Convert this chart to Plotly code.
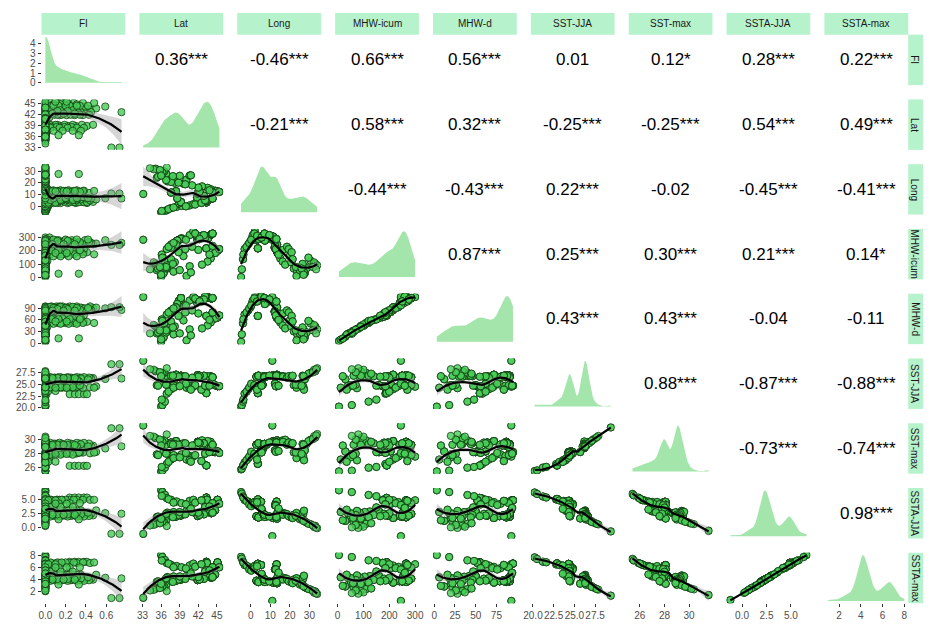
import numpy as np
import plotly.graph_objects as go

W, H = 928, 626

var_names = ["FI", "Lat", "Long", "MHW-icum", "MHW-d",
             "SST-JJA", "SST-max", "SSTA-JJA", "SSTA-max"]

# ---- site level variables (one entry per site) ----
site_lat = [36.0, 36.2, 36.6, 36.9, 37.6, 38.5, 39.3, 40.6, 41.2, 38.9,
            39.2, 43.3, 43.4, 43.6, 44.1, 42.6, 41.8, 38.6, 41.9, 38.4,
            37.6, 33.1, 45.1, 44.7, 44.0, 43.5, 42.6, 44.3, 39.6, 38.2,
            37.0, 38.0, 40.1, 40.6, 35.3, 36.4, 36.8, 36.5, 35.1, 34.8,
            36.9, 36.1, 37.2, 38.0, 40.0, 41.5, 42.5, 43.1, 44.3, 42.9,
            42.2, 45.4, 43.8, 42.0, 41.0, 39.9, 38.8, 37.6, 36.8, 39.0,
            40.8, 37.9, 35.5, 36.2, 35.8, 34.2, 36.0]
site_long = [-5.0, -4.6, -4.0, -3.2, -1.3, -0.2, 0.6, 1.0, 2.1, 2.9,
             3.9, 3.6, 5.2, 6.0, 7.0, 6.8, 8.0, 7.2, 11.5, 13.4,
             12.2, 11.0, 13.2, 13.7, 15.1, 16.3, 17.6, 12.4, 19.9, 20.7,
             22.0, 23.8, 23.4, 27.0, 25.1, 27.6, 28.6, 30.6, 33.0, 32.4,
             34.0, -3.8, -2.2, -0.8, 0.2, 1.8, 3.2, 5.5, 7.0, 9.5,
             13.1, 12.8, 14.2, 16.5, 18.5, 19.4, 20.9, 21.4, 23.0, 26.8,
             27.2, 26.5, 26.0, 29.5, 31.8, 33.4, 27.0]
site_icum = [5, 55, 120, 185, 215, 235, 255, 275, 300, 245,
             250, 190, 265, 255, 280, 260, 250, 240, 265, 215,
             195, 245, 175, 160, 125, 105, 85, 205, 140, 100,
             60, 40, 12, 75, 50, 30, 62, 110, 90, 100,
             80, 150, 200, 225, 245, 285, 270, 260, 285, 275,
             250, 185, 150, 180, 200, 185, 165, 120, 70, 50,
             35, 90, 60, 130, 70, 55, 20]
site_d = [3, 18, 40, 58, 66, 72, 80, 86, 93, 86,
          91, 55, 95, 92, 90, 86, 82, 79, 87, 72,
          64, 93, 52, 50, 42, 36, 30, 62, 46, 34,
          24, 18, 6, 28, 20, 12, 22, 40, 34, 37,
          28, 48, 62, 70, 76, 90, 84, 94, 91, 88,
          84, 56, 47, 60, 66, 62, 55, 44, 26, 20,
          16, 32, 22, 45, 26, 20, 8]
site_sst_jja = [20.2, 20.5, 21.2, 22.8, 23.7, 24.3, 24.6, 24.4, 24.2, 26.2,
                26.4, 22.9, 24.4, 24.6, 26.2, 26.3, 26.3, 26.1, 26.5, 26.6,
                26.3, 29.4, 24.3, 24.5, 26.3, 26.3, 26.2, 24.8, 26.3, 26.2,
                24.5, 24.4, 24.0, 23.9, 24.5, 25.7, 26.4, 27.0, 27.3, 27.6,
                27.9, 21.6, 23.2, 24.0, 24.8, 24.5, 23.6, 24.4, 26.1, 26.4,
                26.4, 24.3, 24.4, 26.2, 26.0, 26.3, 26.2, 26.4, 24.6, 24.3,
                23.6, 26.4, 24.4, 26.8, 27.1, 27.7, 26.3]
site_sst_max = [25.4, 25.5, 25.9, 26.4, 27.0, 27.4, 27.7, 27.5, 27.4, 28.9,
                29.1, 26.2, 28.0, 28.2, 28.7, 29.0, 28.9, 29.0, 29.4, 29.5,
                29.3, 31.6, 28.1, 28.0, 29.4, 29.5, 29.6, 28.1, 29.2, 29.1,
                27.8, 27.6, 27.0, 26.9, 27.7, 28.1, 29.0, 29.6, 29.9, 30.1,
                30.4, 26.0, 26.7, 27.2, 27.9, 27.6, 26.8, 27.8, 29.0, 29.2,
                29.2, 27.9, 28.0, 29.3, 28.9, 29.2, 29.0, 29.1, 27.8, 27.3,
                26.7, 29.0, 27.6, 29.4, 29.7, 30.2, 28.9]
site_ssta_jja = [6.6, 6.3, 5.8, 5.2, 4.9, 4.6, 4.3, 4.7, 4.9, 2.3,
                 2.1, 5.3, 4.9, 3.0, 2.5, 2.4, 2.3, 2.2, 2.0, 1.9,
                 2.3, -1.2, 4.9, 3.0, 3.0, 2.9, 2.8, 4.3, 2.4, 2.1,
                 2.6, 2.7, 2.9, 3.1, 1.8, 1.4, 1.2, 0.9, 0.6, 0.4,
                 0.2, 5.6, 5.0, 4.4, 4.1, 4.4, 4.8, 3.6, 2.6, 2.3,
                 2.2, 4.2, 3.7, 2.6, 2.7, 2.3, 2.2, 2.0, 2.4, 2.7,
                 3.3, 1.8, 1.9, 1.0, 0.7, 0.3, 1.5]
site_ssta_max = [8.0, 7.7, 7.2, 6.7, 6.4, 6.2, 6.0, 6.3, 6.6, 4.2,
                 4.0, 6.9, 6.7, 4.8, 4.3, 4.2, 4.1, 4.0, 3.9, 3.8,
                 4.2, 1.0, 6.8, 4.8, 4.8, 4.7, 4.6, 6.0, 4.2, 4.0,
                 4.4, 4.5, 4.6, 4.9, 3.6, 3.2, 3.0, 2.8, 2.5, 2.3,
                 2.1, 7.1, 6.6, 6.0, 5.8, 6.1, 6.5, 5.3, 4.4, 4.1,
                 4.0, 6.0, 5.5, 4.4, 4.5, 4.1, 4.0, 3.8, 4.2, 4.5,
                 5.0, 3.6, 3.7, 2.9, 2.6, 2.2, 3.3]
# FI observations recorded at each site
site_fi = [
    [0, 0], [0, 0], [0, 0], [0, 0.01], [0, 0.02], [0, 0.02],
    [0, 0.03], [0, 0.01], [0, 0.04],
    [0, 0.08, 0.15, 0.22, 0.30, 0.41, 0.12],
    [0, 0.05, 0.12, 0.19, 0.27, 0.36, 0.47, 0.10],
    [0, 0.24, 0.29, 0.33, 0.38, 0.41],
    [0, 0.06, 0.11, 0.17, 0.24, 0.31, 0.44, 0.14],
    [0, 0.04, 0.09, 0.16, 0.21, 0.28, 0.35, 0.50, 0.13],
    [0, 0.07, 0.13, 0.20, 0.26, 0.39, 0.59, 0.10],
    [0, 0.10, 0.18, 0.23, 0.32, 0.45, 0.75, 0.15],
    [0, 0.03, 0.14, 0.21, 0.29, 0.37],
    [0, 0.06, 0.11, 0.19, 0.26],
    [0, 0.09, 0.16, 0.25, 0.34, 0.43, 0.12],
    [0, 0.05, 0.14, 0.22, 0.31, 0.38],
    [0, 0.08, 0.17, 0.27, 0.35],
    [0.65, 0.73],
    [0, 0.05, 0.12, 0.20, 0.28, 0.37, 0.48, 0.16],
    [0, 0.08, 0.15, 0.23, 0.31],
    [0, 0.02], [0, 0], [0, 0],
    [0, 0.06, 0.13, 0.24, 0.34],
    [0, 0], [0, 0], [0, 0], [0, 0], [0, 0], [0, 0], [0, 0],
    [0, 0.13, 0.33],
    [0, 0], [0, 0], [0, 0], [0], [0],
    [0, 0], [0, 0], [0, 0.01], [0, 0], [0, 0.02], [0, 0.03, 0.10],
    [0, 0.05, 0.15, 0.27], [0, 0.08, 0.20, 0.31, 0.42],
    [0, 0.12, 0.22], [0, 0.07, 0.18, 0.29], [0, 0.10, 0.21],
    [0, 0], [0, 0], [0, 0], [0, 0], [0, 0], [0, 0], [0, 0], [0, 0],
    [0, 0], [0, 0], [0, 0], [0, 0], [0, 0], [0], [0, 0],
]

# ---- correlation labels for the upper triangle (row-major) ----
corr_values = [0.36, -0.46, 0.66, 0.56, 0.01, 0.12, 0.28, 0.22,
               -0.21, 0.58, 0.32, -0.25, -0.25, 0.54, 0.49,
               -0.44, -0.43, 0.22, -0.02, -0.45, -0.41,
               0.87, 0.25, 0.30, 0.21, 0.14,
               0.43, 0.43, -0.04, -0.11,
               0.88, -0.87, -0.88,
               -0.73, -0.74,
               0.98]
corr_signif = ["***", "***", "***", "***", "", "*", "***", "***",
               "***", "***", "***", "***", "***", "***", "***",
               "***", "***", "***", "", "***", "***",
               "***", "***", "***", "***", "*",
               "***", "***", "", "",
               "***", "***", "***",
               "***", "***",
               "***"]

# ---- axis breaks ----
density_ticks = [0, 1, 2, 3, 4]
y_breaks = {
    1: [33, 36, 39, 42, 45], 2: [0, 10, 20, 30], 3: [0, 100, 200, 300],
    4: [0, 30, 60, 90], 5: [20.0, 22.5, 25.0, 27.5], 6: [26, 28, 30],
    7: [0.0, 2.5, 5.0], 8: [2, 4, 6, 8],
}
x_breaks = {
    0: [0.0, 0.2, 0.4, 0.6], 1: [33, 36, 39, 42, 45], 2: [0, 10, 20, 30],
    3: [0, 100, 200, 300], 4: [0, 25, 50, 75], 5: [20.0, 22.5, 25.0, 27.5],
    6: [26, 28, 30], 7: [0.0, 2.5, 5.0], 8: [2, 4, 6, 8],
}
break_fmt = {0: "{:.1f}", 5: "{:.1f}", 7: "{:.1f}"}

# ---- expand site table into observations ----
site_cols = [site_lat, site_long, site_icum, site_d, site_sst_jja,
             site_sst_max, site_ssta_jja, site_ssta_max]
cols = [[] for _ in range(9)]
for s, fis in enumerate(site_fi):
    for f in fis:
        cols[0].append(f)
        for k in range(8):
            cols[k + 1].append(site_cols[k][s])
data = [np.asarray(c, dtype=float) for c in cols]
NV = len(var_names)


def loess_smooth(x, y, span=0.75, n_out=80):
    n = len(x)
    q = int(np.floor(n * span))

    def lrow(x0):
        d = np.abs(x - x0)
        h = max(np.sort(d)[q - 1], 1e-12)
        u = np.clip(d / h, 0, 1)
        w = (1 - u ** 3) ** 3
        X = np.column_stack([np.ones(n), x - x0, (x - x0) ** 2])
        XtW = X.T * w
        return (np.linalg.pinv(XtW @ X) @ XtW)[0]

    L = np.array([lrow(v) for v in x])
    res = y - L @ y
    IL = np.eye(n) - L
    delta1 = np.trace(IL.T @ IL)
    sigma = np.sqrt(np.sum(res ** 2) / delta1)
    xs = np.linspace(x.min(), x.max(), n_out)
    Ls = np.array([lrow(v) for v in xs])
    fit = Ls @ y
    se = sigma * np.sqrt(np.sum(Ls ** 2, axis=1))
    return xs, fit, fit - 1.97 * se, fit + 1.97 * se


def density(v, n_out=512):
    n = len(v)
    sd = np.std(v, ddof=1)
    iqr = np.subtract(*np.percentile(v, [75, 25]))
    lo = min(sd, iqr / 1.34) if iqr > 0 else sd
    bw = 0.9 * lo * n ** -0.2
    g = np.linspace(v.min(), v.max(), n_out)
    k = np.exp(-0.5 * ((g[:, None] - v[None, :]) / bw) ** 2)
    return g, k.sum(axis=1) / (n * bw * np.sqrt(2 * np.pi))


def expand(lo, hi, m=0.05):
    p = (hi - lo) * m
    return [lo - p, hi + p]


def col_left(j):
    return 34 + 99.25 * j


def row_top(i):
    return 32 + 65.5 * i


PW, PH = 85, 51
STRIP = "#b6f2cb"
DENS = "#a3e5ab"
FONT = "Liberation Sans, Arial, sans-serif"
TICKFONT = dict(family=FONT, size=10, color="#4d4d4d")

fig = go.Figure()
layout = dict(width=W, height=H, margin=dict(l=0, r=0, t=0, b=0),
              paper_bgcolor="white", plot_bgcolor="white",
              showlegend=False)
shapes, annotations = [], []
ax = 0
pairs = [(a, b) for a in range(NV) for b in range(a + 1, NV)]

for i in range(NV):
    for j in range(NV):
        x0p, y0p = col_left(j), row_top(i)
        xdom = [x0p / W, (x0p + PW) / W]
        ydom = [1 - (y0p + PH) / H, 1 - y0p / H]
        if j > i:
            k = pairs.index((i, j))
            annotations.append(dict(
                x=(x0p + PW / 2) / W, y=1 - (y0p + PH / 2) / H,
                xref="paper", yref="paper", showarrow=False,
                xanchor="center", yanchor="middle",
                text=f"{corr_values[k]:.2f}{corr_signif[k]}",
                font=dict(family=FONT, size=17, color="black")))
            continue
        ax += 1
        xa, ya = f"x{ax}", f"y{ax}"
        xr = expand(data[j].min(), data[j].max())
        if i == j:
            g, dv = density(data[i])
            fig.add_trace(go.Scatter(x=g, y=dv, mode="lines", fill="tozeroy",
                                     fillcolor=DENS, line=dict(width=0),
                                     xaxis=xa, yaxis=ya, hoverinfo="skip"))
            yr = expand(0, dv.max())
        else:
            xs, fit, lo, hi = loess_smooth(data[j], data[i])
            fig.add_trace(go.Scatter(
                x=data[j], y=data[i], mode="markers", xaxis=xa, yaxis=ya,
                marker=dict(size=7.3, color="rgba(72,204,88,0.8)",
                            line=dict(color="rgba(15,55,15,0.85)", width=0.9))))
            fig.add_trace(go.Scatter(
                x=np.concatenate([xs, xs[::-1]]),
                y=np.concatenate([hi, lo[::-1]]),
                mode="lines", fill="toself", fillcolor="rgba(153,153,153,0.4)",
                line=dict(width=0), xaxis=xa, yaxis=ya, hoverinfo="skip"))
            fig.add_trace(go.Scatter(x=xs, y=fit, mode="lines",
                                     line=dict(color="black", width=2.2),
                                     xaxis=xa, yaxis=ya))
            yr = expand(min(data[i].min(), lo.min()), max(data[i].max(), hi.max()))

        xaxis = dict(domain=xdom, range=xr, anchor=ya, showgrid=False,
                     zeroline=False, showline=False, showticklabels=False,
                     ticks="")
        yaxis = dict(domain=ydom, range=yr, anchor=xa, showgrid=False,
                     zeroline=False, showline=False, showticklabels=False,
                     ticks="")
        if i == NV - 1:
            fmt = break_fmt.get(j, "{:g}")
            xaxis.update(showticklabels=True, ticks="outside", ticklen=3,
                         tickcolor="#333333", tickwidth=1, tickangle=0,
                         tickvals=x_breaks[j],
                         ticktext=[fmt.format(v) for v in x_breaks[j]],
                         tickfont=TICKFONT)
        if j == 0:
            if i == 0:
                tv, tt = density_ticks, [str(v) for v in density_ticks]
            else:
                fmt = break_fmt.get(i, "{:g}")
                tv = y_breaks[i]
                tt = [fmt.format(v) for v in tv]
            yaxis.update(showticklabels=True, ticks="outside", ticklen=3,
                         tickcolor="#333333", tickwidth=1,
                         tickvals=tv, ticktext=tt, tickfont=TICKFONT)
        layout[f"xaxis{ax}"] = xaxis
        layout[f"yaxis{ax}"] = yaxis

# ---- strips: variable names on top and on the right ----
for j, name in enumerate(var_names):
    x0p = col_left(j)
    shapes.append(dict(type="rect", xref="paper", yref="paper",
                       x0=x0p / W, x1=(x0p + PW) / W,
                       y0=1 - 32 / H, y1=1 - 10 / H,
                       fillcolor=STRIP, line=dict(width=0), layer="below"))
    annotations.append(dict(x=(x0p + PW / 2) / W, y=1 - 21 / H,
                            xref="paper", yref="paper", showarrow=False,
                            xanchor="center", yanchor="middle",
                            text=name, font=dict(family=FONT, size=10,
                                                 color="#1a1a1a")))
for i, name in enumerate(var_names):
    y0p = row_top(i)
    shapes.append(dict(type="rect", xref="paper", yref="paper",
                       x0=913 / W, x1=1.0,
                       y0=1 - (y0p + PH) / H, y1=1 - y0p / H,
                       fillcolor=STRIP, line=dict(width=0), layer="below"))
    annotations.append(dict(x=919.5 / W, y=1 - (y0p + PH / 2) / H,
                            xref="paper", yref="paper", showarrow=False,
                            xanchor="center", yanchor="middle",
                            text=name, textangle=90,
                            font=dict(family=FONT, size=10, color="#1a1a1a")))

layout["shapes"] = shapes
layout["annotations"] = annotations
fig.update_layout(**layout)
# page body without the browser's default margin
fig.write_html("out.html",
               post_script="document.body.style.margin='0px';")
